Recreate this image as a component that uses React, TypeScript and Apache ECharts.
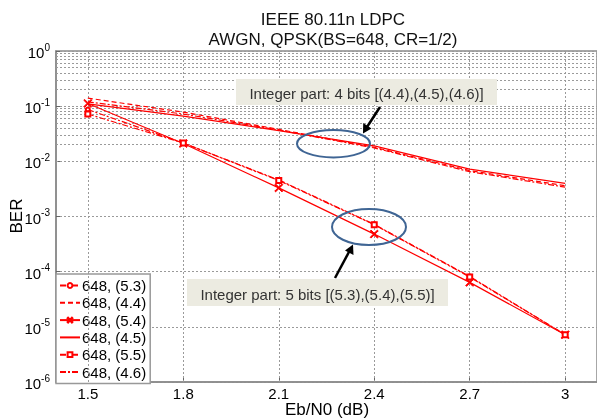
import React, { useEffect, useRef } from "react";
import * as echarts from "echarts";

const EBN0 = [1.5, 1.8, 2.1, 2.4, 2.7, 3];
const XTICKS = [1.5, 1.8, 2.1, 2.4, 2.7, 3];
const BER_53 = [0.087, 0.0215, 0.0046, 0.00072, 0.000082, 0.0000072];
const BER_44 = [0.14, 0.078, 0.038, 0.018, 0.0068, 0.0036];
const BER_54 = [0.112, 0.021, 0.0033, 0.00048, 0.000064, 0.0000072];
const BER_45 = [0.11, 0.066, 0.036, 0.019, 0.0072, 0.004];
const BER_55 = [0.072, 0.0215, 0.0045, 0.00071, 0.00008, 0.0000072];
const BER_46 = [0.12, 0.072, 0.037, 0.0175, 0.0065, 0.0034];
const LEGEND_NAMES = ["648, (5.3)", "648, (4.4)", "648, (5.4)", "648, (4.5)", "648, (5.5)", "648, (4.6)"];
const TITLE_LINES = ["IEEE 80.11n LDPC", "AWGN, QPSK(BS=648, CR=1/2)"];
const NOTE_4 = "Integer part: 4 bits [(4.4),(4.5),(4.6)]";
const NOTE_5 = "Integer part: 5 bits [(5.3),(5.4),(5.5)]";

const FONT = "Arial, 'Liberation Sans', sans-serif";
const RED = "#ff0000";
const X_SYMBOL = "path://M0,1L1,0L5,4L9,0L10,1L6,5L10,9L9,10L5,6L1,10L0,9L4,5Z";

function pairs(ys: number[]) {
  return EBN0.map((x, i) => [x, ys[i]]);
}

const minorValues: number[] = [];
for (let e = -6; e <= -1; e++) {
  for (let k = 2; k <= 9; k++) minorValues.push(k * Math.pow(10, e));
}

export default function App() {
  const ref = useRef<HTMLDivElement>(null);
  useEffect(() => {
    if (!ref.current) return;
    const chart = echarts.init(ref.current, null, { renderer: "svg" });
    const dashDot = [6, 2, 2, 2];
    const mk = (name: string, data: number[], type: any, symbol: string, size: number, width = 1.2) => ({
      name,
      type: "line",
      data: pairs(data),
      symbol,
      symbolSize: size,
      showSymbol: symbol !== "none",
      lineStyle: { color: RED, width, type },
      itemStyle: { color: RED, borderColor: RED, borderWidth: 1 },
      z: 5,
    });
    const hasSymbol = [true, false, true, false, true, false];
    chart.setOption({
      animation: false,
      grid: {
        left: 56,
        top: 51,
        width: 543,
        height: 331,
        show: true,
        borderColor: "#8a8a8a",
        borderWidth: 1.5,
        backgroundColor: "#fff",
      },
      xAxis: {
        type: "value",
        min: 1.4,
        max: 3.1,
        axisLine: { show: true, lineStyle: { color: "#8a8a8a", width: 1.5 } },
        axisTick: { show: true, inside: true, length: 4, customValues: XTICKS, lineStyle: { color: "#666" } },
        axisLabel: {
          customValues: XTICKS,
          color: "#000",
          fontSize: 15,
          fontFamily: FONT,
          margin: 4,
          formatter: (v: number) => String(Math.round(v * 10) / 10),
        },
        splitLine: { show: false },
      },
      yAxis: {
        type: "log",
        logBase: 10,
        min: 1e-6,
        max: 1,
        splitNumber: 6,
        axisLine: { show: true, lineStyle: { color: "#8a8a8a", width: 1.5 } },
        axisTick: { show: true, inside: true, length: 4, lineStyle: { color: "#666" } },
        splitLine: { show: true, lineStyle: { color: "#9a9a9a", type: [2, 2], width: 1 } },
        axisLabel: {
          margin: 6,
          formatter: (v: number) => `{b|10}{s|${Math.round(Math.log10(v))}}`,
          rich: {
            b: { fontSize: 15, fontFamily: FONT, color: "#000", lineHeight: 18, verticalAlign: "bottom" },
            s: { fontSize: 10, fontFamily: FONT, color: "#000", lineHeight: 10, verticalAlign: "top" },
          },
        },
      },
      legend: {
        data: LEGEND_NAMES.map((n, i) =>
          hasSymbol[i] ? { name: n } : { name: n, itemStyle: { opacity: 0 } }
        ),
        orient: "vertical",
        left: 56,
        top: 274,
        padding: [4, 4, 4, 3],
        itemGap: 2.3,
        itemWidth: 20,
        itemHeight: 6,
        backgroundColor: "#fff",
        borderColor: "#999",
        borderWidth: 1.5,
        borderRadius: 0,
        textStyle: { fontSize: 15, fontFamily: FONT, color: "#000", lineHeight: 14, padding: [0, 0, 0, -3] },
      },
      series: [
        {
          name: "grid-minor",
          type: "line",
          data: [],
          silent: true,
          markLine: {
            silent: true,
            symbol: "none",
            label: { show: false },
            animation: false,
            lineStyle: { color: "#9a9a9a", type: [2, 2], width: 1 },
            data: [
              ...minorValues.map((v) => ({ yAxis: v })),
              ...XTICKS.map((v) => ({ xAxis: v })),
            ],
          },
          z: 1,
        },
        mk(LEGEND_NAMES[0], BER_53, dashDot, "emptyCircle", 4),
        mk(LEGEND_NAMES[1], BER_44, [5, 3], "none", 0),
        mk(LEGEND_NAMES[2], BER_54, "solid", X_SYMBOL, 8),
        mk(LEGEND_NAMES[3], BER_45, "solid", "none", 0),
        mk(LEGEND_NAMES[4], BER_55, dashDot, "emptyRect", 5),
        mk(LEGEND_NAMES[5], BER_46, dashDot, "none", 0),
      ],
      graphic: [
        {
          type: "text",
          x: 333,
          y: 19,
          style: { text: TITLE_LINES[0], align: "center", verticalAlign: "middle", font: `17px ${FONT}`, fill: "#111" },
        },
        {
          type: "text",
          x: 333,
          y: 39,
          style: { text: TITLE_LINES[1], align: "center", verticalAlign: "middle", font: `17px ${FONT}`, fill: "#111" },
        },
        {
          type: "text",
          x: 327,
          y: 409,
          style: { text: "Eb/N0 (dB)", align: "center", verticalAlign: "middle", font: `17px ${FONT}`, fill: "#000" },
        },
        {
          type: "text",
          x: 16,
          y: 216,
          rotation: Math.PI / 2,
          style: { text: "BER", align: "center", verticalAlign: "middle", font: `17px ${FONT}`, fill: "#000" },
        },
        {
          type: "rect",
          shape: { x: 236, y: 79, width: 261, height: 26 },
          style: { fill: "#ecebe1" },
          z: 20,
        },
        {
          type: "text",
          x: 366.5,
          y: 93,
          z: 21,
          style: { text: NOTE_4, align: "center", verticalAlign: "middle", font: `15px ${FONT}`, fill: "#333" },
        },
        {
          type: "rect",
          shape: { x: 187, y: 279, width: 261, height: 27 },
          style: { fill: "#ecebe1" },
          z: 20,
        },
        {
          type: "text",
          x: 317.5,
          y: 294,
          z: 21,
          style: { text: NOTE_5, align: "center", verticalAlign: "middle", font: `15px ${FONT}`, fill: "#333" },
        },
        {
          type: "ellipse",
          shape: { cx: 333.5, cy: 143.7, rx: 36.5, ry: 13.7 },
          style: { fill: "none", stroke: "#3f6594", lineWidth: 2 },
          z: 20,
        },
        {
          type: "ellipse",
          shape: { cx: 369, cy: 227, rx: 37, ry: 18 },
          style: { fill: "none", stroke: "#3f6594", lineWidth: 2 },
          z: 20,
        },
        {
          type: "line",
          shape: { x1: 380, y1: 107, x2: 367, y2: 127 },
          style: { stroke: "#000", lineWidth: 2.5 },
          z: 20,
        },
        {
          type: "polygon",
          shape: { points: [[363, 133.5], [363.2, 123], [371.5, 128.4]] },
          style: { fill: "#000" },
          z: 20,
        },
        {
          type: "line",
          shape: { x1: 335, y1: 278, x2: 349.5, y2: 251 },
          style: { stroke: "#000", lineWidth: 2.5 },
          z: 20,
        },
        {
          type: "polygon",
          shape: { points: [[353, 244.5], [353.5, 255], [345, 250.5]] },
          style: { fill: "#000" },
          z: 20,
        },
      ],
    });
    return () => chart.dispose();
  }, []);
  return <div ref={ref} style={{ position: "fixed", left: 0, top: 0, width: 597, height: 418 }} />;
}
